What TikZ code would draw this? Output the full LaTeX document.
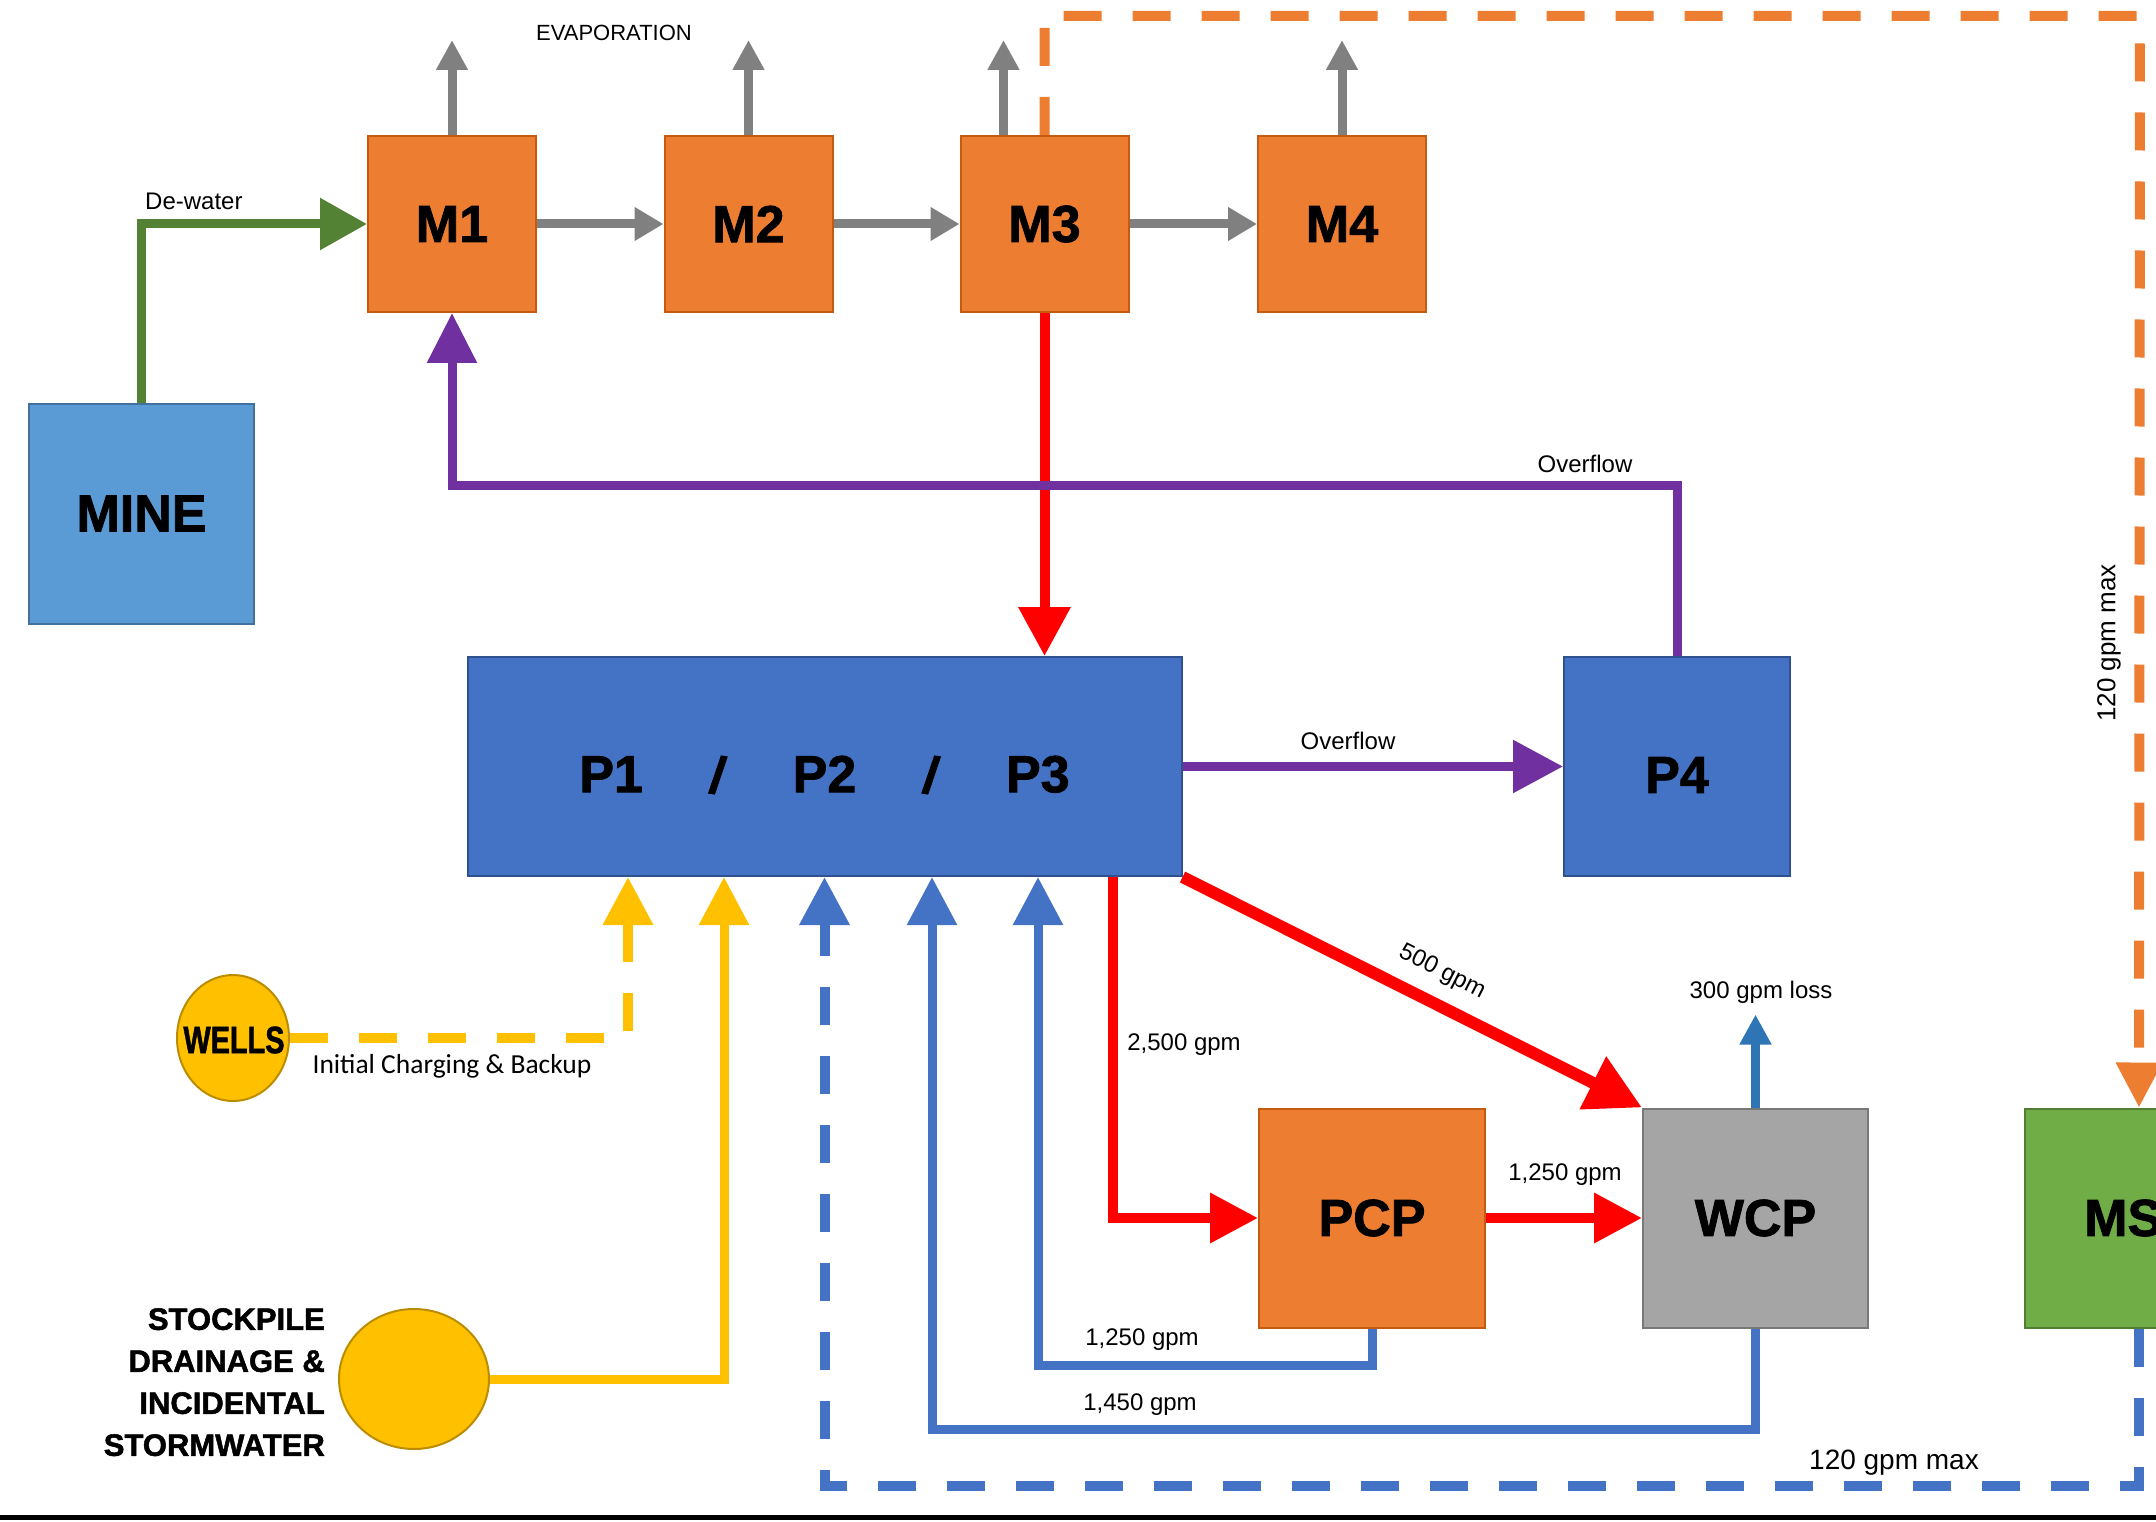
\documentclass[tikz,border=0pt]{standalone}
\usepackage{fontspec}
\setmainfont{Liberation Sans}
\newfontfamily\calfont{Carlito}
\newfontfamily\heavyfont[BoldFeatures={FakeBold=1.6}]{Liberation Sans}
\usetikzlibrary{arrows.meta,shapes.geometric}
\definecolor{orng}{HTML}{ED7D31}
\definecolor{orngd}{HTML}{C55A11}
\definecolor{pblue}{HTML}{4472C4}
\definecolor{pblued}{HTML}{2F528F}
\definecolor{mblue}{HTML}{5B9BD5}
\definecolor{mblued}{HTML}{41719C}
\definecolor{wgray}{HTML}{A5A5A5}
\definecolor{wgrayd}{HTML}{787878}
\definecolor{msgreen}{HTML}{70AD47}
\definecolor{msgreend}{HTML}{507E32}
\definecolor{ylw}{HTML}{FFC000}
\definecolor{ylwd}{HTML}{BC8C00}
\definecolor{purp}{HTML}{7030A0}
\definecolor{dgreen}{HTML}{548235}
\definecolor{gline}{HTML}{808080}
\definecolor{lossblue}{HTML}{2E75B6}
\begin{document}
\begin{tikzpicture}[x=1pt,y=-1pt,
  box/.style={rectangle, draw, line width=2pt, inner sep=0pt, font=\heavyfont\fontsize{52}{52}\selectfont\bfseries, text=black},
  obox/.style={box, fill=orng, draw=orngd, minimum width=168pt, minimum height=176pt},
  bbox/.style={box, fill=pblue, draw=pblued, minimum height=219pt},
  lbl/.style={font=\fontsize{24}{28}\selectfont, inner sep=0pt, text=black},
  evap/.style={draw=gline, line width=9pt, -{Triangle[length=30pt,width=30pt]}},
  gflow/.style={draw=gline, line width=9pt, -{Triangle[length=29pt,width=32pt]}},
  bigtip/.style={-{Triangle[length=49pt,width=50pt]}},
  midtip/.style={-{Triangle[length=48pt,width=48pt]}},
  redflow/.style={draw=red, line width=10pt},
  blueflow/.style={draw=pblue, line width=9pt},
  dashflow/.style={line width=10pt, dash pattern=on 38pt off 31pt},
]
\useasboundingbox (0,0) rectangle (2156,1522);
\clip (0,0) rectangle (2156,1522);

% boxes
\node[obox] (M1) at (452,224) {M1};
\node[obox] (M2) at (748.5,224) {M2};
\node[obox] (M3) at (1044.5,224) {M3};
\node[obox] (M4) at (1342,224) {M4};
\node[box, fill=mblue, draw=mblued, minimum width=225pt, minimum height=220pt] (MINE) at (141.5,513.5) {MINE};
\node[bbox, minimum width=714pt] (P123) at (824.5,766.5) {};
\node[font=\heavyfont\fontsize{52}{52}\selectfont\bfseries, inner sep=0pt] (P123lbl) at (824.5,775) {P1\hspace{65pt}\rotatebox{-8}{/}\hspace{65pt}P2\hspace{65pt}\rotatebox{-8}{/}\hspace{65pt}P3};
\node[bbox, minimum width=226pt] (P4) at (1677,766.5) {};
\node[font=\heavyfont\fontsize{52}{52}\selectfont\bfseries, inner sep=0pt] (P4lbl) at (1677,775) {P4};
\node[box, fill=orng, draw=orngd, minimum width=226pt, minimum height=219pt] (PCP) at (1372,1218) {PCP};
\node[box, fill=wgray, draw=wgrayd, minimum width=225pt, minimum height=219pt] (WCP) at (1755.5,1218) {WCP};
\node[box, fill=msgreen, draw=msgreend, minimum width=228pt, minimum height=219pt] (MS) at (2139,1218) {};
\node[font=\heavyfont\fontsize{52}{52}\selectfont\bfseries, anchor=west, inner sep=0pt] (MSlbl) at (2084,1218) {MS};
\node[ellipse, fill=ylw, draw=ylwd, line width=2pt, minimum width=112pt, minimum height=126pt, inner sep=0pt] (WELLS) at (233,1038) {};
\node[font=\heavyfont\fontsize{38}{38}\selectfont\bfseries, inner sep=0pt] (WELLSlbl) at (234,1040) {\scalebox{0.76}[1]{WELLS}};
\node[ellipse, fill=ylw, draw=ylwd, line width=2pt, minimum width=150pt, minimum height=140pt, inner sep=0pt] (ST) at (414,1379) {};
\node[font=\heavyfont\fontsize{31}{42}\selectfont\bfseries, align=right, anchor=north east, inner sep=0pt] (STlbl) at (325,1308)
  {STOCKPILE\\DRAINAGE \&\ \\INCIDENTAL\\STORMWATER};

% evaporation
\draw[evap] (M1.north) -- ++(0,-95);
\draw[evap] (M2.north) -- ++(0,-95);
\draw[evap] ([xshift=-41pt]M3.north) -- ++(0,-95);
\draw[evap] (M4.north) -- ++(0,-95);
\node[lbl, font=\fontsize{22}{26}\selectfont] (evl) at (614,33) {EVAPORATION};

% orange dashed
\coordinate (oc1) at (1044.5,16);
\coordinate (oc2) at (2140,16);
\draw[orng, dashflow, -{Triangle[length=45pt,width=44pt]}] (M3.north) -- (oc1) -- (oc2) -- (MS.north);
\node[lbl, font=\fontsize{26}{30}\selectfont, rotate=90] (l120r) at (2109,643) {120 gpm max};

% de-water
\draw[dgreen, line width=9pt, -{Triangle[length=47pt,width=50pt]}] (MINE.north) |- (M1.west);
\node[lbl, anchor=south west] (ldw) at (145,210) {De-water};

% gray chain
\draw[gflow] (M1.east) -- (M2.west);
\draw[gflow] (M2.east) -- (M3.west);
\draw[gflow] (M3.east) -- (M4.west);

% red from M3
\draw[redflow, bigtip] (M3.south) -- (M3.south |- P123.north);

% purple overflow loop
\coordinate (pb) at (1677,485.5);
\draw[purp, line width=9pt, -{Triangle[length=50pt,width=48pt]}] (P4.north) -- (pb) -| (M1.south);
\node[lbl, anchor=south] (lov1) at (1585,473) {Overflow};

% purple overflow P -> P4
\draw[purp, line width=9pt, -{Triangle[length=50pt,width=51pt]}] (P123.east) -- (P4.west);
\node[lbl, anchor=south] (lov2) at (1348,750) {Overflow};

% red 500 gpm
\draw[red, line width=12pt, -{Triangle[length=55pt,width=56pt]}] (P123.south east) -- (WCP.north west);
\node[lbl, rotate=-27] (l500) at (1442,972) {500 gpm};

% red 2500 gpm
\draw[redflow, midtip] ([xshift=-70pt]P123.south east) |- (PCP.west);
\node[lbl] (l2500) at (1184,1045) {2,500 gpm};

% red PCP -> WCP
\draw[redflow, midtip] (PCP.east) -- (WCP.west);
\node[lbl] (l1250a) at (1565,1175) {1,250 gpm};

% loss
\draw[lossblue, line width=9pt, -{Triangle[length=30pt,width=30pt]}] (WCP.north) -- ++(0,-93);
\node[lbl] (lloss) at (1761,992) {300 gpm loss};

% blue returns
\draw[blueflow, midtip] (PCP.south) -- ++(0,37) -| ([xshift=213.5pt]P123.south);
\node[lbl] (l1250b) at (1142,1340) {1,250 gpm};
\draw[blueflow, midtip] (WCP.south) -- ++(0,101) -| ([xshift=107.5pt]P123.south);
\node[lbl] (l1450) at (1140,1405) {1,450 gpm};

% blue dashed from MS
\draw[pblue, dashflow, midtip] (MS.south) -- ++(0,157) -| (P123.south);
\node[lbl, font=\fontsize{28}{32}\selectfont] (l120b) at (1894,1463) {120 gpm max};

% yellow
\draw[ylw, line width=9pt, midtip] (ST.east) -| ([xshift=-100.5pt]P123.south);
\draw[ylw, dashflow, midtip] (WELLS.east) -| ([xshift=-196.5pt]P123.south);
\node[lbl, font=\calfont\fontsize{27.5}{30}\selectfont] (lic) at (452,1066) {Initial Charging \& Backup};

% bottom rule
\draw[line width=5pt] (0,1517) -- (2156,1517);
\end{tikzpicture}
\end{document}
